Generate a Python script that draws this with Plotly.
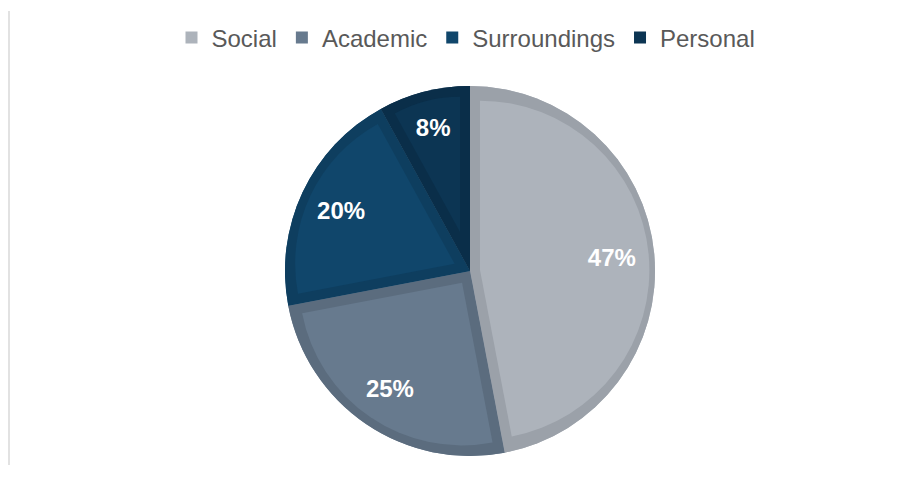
import math
import plotly.graph_objects as go

# ---- data ----
categories = ["Social", "Academic", "Surroundings", "Personal"]
values = [47, 25, 20, 8]
value_labels = ["47%", "25%", "20%", "8%"]

# ---- style ----
fill_colors = ["#ADB3BB", "#677A8E", "#10466B", "#0C3553"]
edge_colors = ["#9BA1A9", "#5B6C7E", "#0E3E5F", "#0A2E49"]

W, H = 916, 477
CX, CY = 462, 263      # pie centre (px, from top-left of the figure)
R = 185                # pie radius (px)
BORDER = 10            # inner border width (px)
FONT = "Arial, Liberation Sans, sans-serif"


def domain_for(half):
    return dict(x=[(CX - half) / W, (CX + half) / W],
                y=[(H - CY - half) / H, (H - CY + half) / H])


fig = go.Figure()

# legend carrier (fill colours), hidden under the edge-colour pie
fig.add_trace(go.Pie(
    values=values, labels=categories, sort=False, direction="clockwise",
    rotation=0, domain=domain_for(R),
    marker=dict(colors=fill_colors, line=dict(width=0)),
    textinfo="none", hoverinfo="skip", showlegend=True))

# full pie in the darker border colours
fig.add_trace(go.Pie(
    values=values, labels=categories, sort=False, direction="clockwise",
    rotation=0, domain=domain_for(R),
    marker=dict(colors=edge_colors, line=dict(width=0)),
    textinfo="none", hoverinfo="skip", showlegend=False))

# inset fills: each slice redrawn smaller and pulled out along its bisector
total = sum(values)
start = 0.0
for cat, v, fc in zip(categories, values, fill_colors):
    theta = v / total * 2 * math.pi
    d = BORDER / math.sin(theta / 2)
    target = R - BORDER
    lo, hi = 0.0, R
    for _ in range(60):
        r = (lo + hi) / 2
        f = (d + r + math.sqrt(d * d + r * r + 2 * d * r * math.cos(theta / 2))) / 2
        if f > target:
            hi = r
        else:
            lo = r
    r = (lo + hi) / 2
    rot = math.degrees(start)
    if rot > 180:
        rot -= 360
    fig.add_trace(go.Pie(
        values=[v, total - v], labels=[cat, cat + " rest"], sort=False,
        direction="clockwise", rotation=rot, domain=domain_for(r + d),
        pull=[d / r, 0],
        marker=dict(colors=[fc, "rgba(0,0,0,0)"], line=dict(width=0)),
        textinfo="none", hoverinfo="skip", showlegend=False))
    start += theta

# labels on top (transparent ring so the text sits out toward the rim)
fig.add_trace(go.Pie(
    values=values, labels=categories, sort=False, direction="clockwise",
    rotation=0, domain=domain_for(R), hole=0.54,
    marker=dict(colors=["rgba(0,0,0,0)"] * len(values), line=dict(width=0)),
    text=value_labels, textinfo="text", textposition="inside",
    insidetextorientation="horizontal",
    textfont=dict(family=FONT, size=24, color="white", weight="bold"),
    hoverinfo="skip", showlegend=False))

fig.update_layout(
    width=W, height=H,
    margin=dict(l=0, r=0, t=0, b=0),
    paper_bgcolor="white", plot_bgcolor="white",
    legend=dict(orientation="h", x=0.5, xanchor="center",
                y=1 - 30 / H, yanchor="middle",
                font=dict(family=FONT, size=24, color="#595959"),
                itemwidth=30, bgcolor="rgba(0,0,0,0)"),
    shapes=[dict(type="line", xref="paper", yref="paper",
                 x0=1 / W, x1=1 / W, y0=1 - 3 / H, y1=1 - 457 / H,
                 line=dict(color="#D9D9D9", width=1.5))],
)

fig.write_html("out.html")
